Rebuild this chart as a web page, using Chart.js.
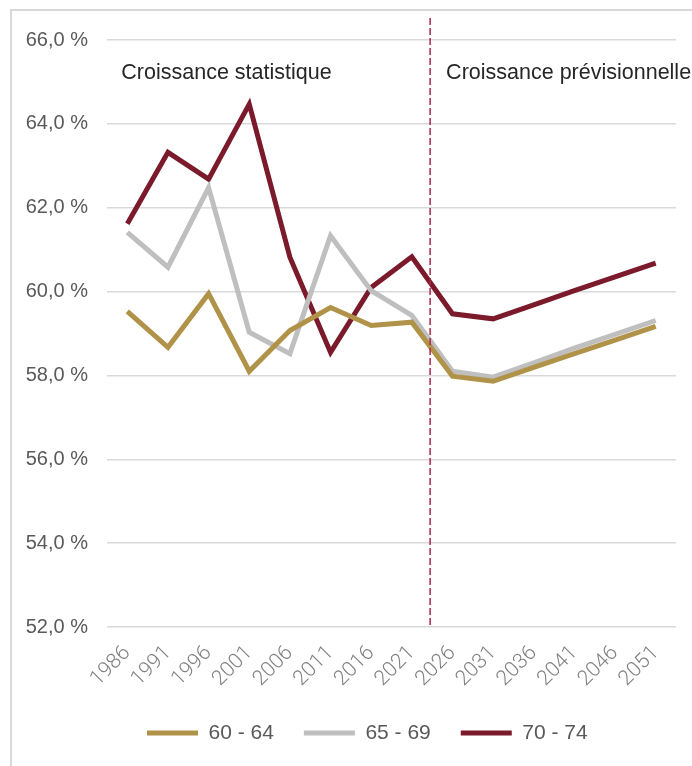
<!DOCTYPE html>
<html>
<head>
<meta charset="utf-8">
<script src="https://cdn.jsdelivr.net/npm/chart.js@4.4.0/dist/chart.umd.min.js"></script>
<style>
    html, body { margin: 0; padding: 0; background: #fff; }
    #wrap { position: relative; width: 692px; height: 766px; overflow: hidden; }
    #frame { position: absolute; left: 10px; top: 9px; width: 760px; height: 820px; border: 2px solid #d9d9d9; box-sizing: border-box; }
    #chart { position: absolute; left: 0; top: 0; }
</style>
</head>
<body>
<div id="wrap">
    <div id="frame"></div>
    <canvas id="chart" width="692" height="766"></canvas>
</div>
<script>
    'use strict';

    var years = ['1986', '1991', '1996', '2001', '2006', '2011', '2016', '2021',
                 '2026', '2031', '2036', '2041', '2046', '2051'];

    var age6064 = [59.53, 58.67, 59.95, 58.10, 59.07, 59.62, 59.19, 59.27,
                   57.98, 57.86, 58.19, 58.52, 58.84, 59.17];
    var age6569 = [61.41, 60.58, 62.48, 59.03, 58.52, 61.33, 60.02, 59.43,
                   58.10, 57.96, 58.30, 58.65, 58.98, 59.31];
    var age7074 = [61.62, 63.32, 62.68, 64.47, 60.82, 58.55, 60.10, 60.83,
                   59.47, 59.35, 59.68, 60.02, 60.35, 60.68];

    var seriesNames = ['60 - 64', '65 - 69', '70 - 74'];
    var yMin = 52, yMax = 66, yStep = 2;

    // between 2021 and 2026: statistics on the left, forecast on the right
    var splitAt = 7.45;
    var leftTitle = 'Croissance statistique';
    var rightTitle = 'Croissance prévisionnelle';

    var colors = {
        gold: '#b09248',
        grey: '#bfbfbf',
        wine: '#7b1a2b',
        split: '#a82848',
        grid: '#d9d9d9',
        tick: '#595959',
        year: '#808080',
        text: '#262626'
    };

    var fontFamily = '"Liberation Sans", Arial, sans-serif';

    function line(label, data, color) {
        return {
            label: label,
            data: data,
            borderColor: color,
            backgroundColor: color,
            borderWidth: 5,
            pointRadius: 0,
            tension: 0,
            borderJoinStyle: 'miter',
            borderCapStyle: 'butt'
        };
    }

    var sectionPlugin = {
        id: 'sections',
        afterLayout: function (chart) {
            // nudge the legend a bit to the right of the plot's left edge
            chart.legend.left += 10;
            chart.legend.right += 10;
        },
        afterDatasetsDraw: function (chart) {
            var ctx = chart.ctx;
            var x = chart.scales.x;
            var y = chart.scales.y;
            var area = chart.chartArea;
            var sx = x.getPixelForValue(splitAt);

            ctx.save();
            ctx.strokeStyle = colors.split;
            ctx.lineWidth = 1.5;
            ctx.setLineDash([7, 3]);
            ctx.beginPath();
            ctx.moveTo(sx, area.top - 22);
            ctx.lineTo(sx, area.bottom);
            ctx.stroke();
            ctx.setLineDash([]);

            ctx.fillStyle = colors.text;
            ctx.font = '21.5px ' + fontFamily;
            ctx.textBaseline = 'middle';
            ctx.textAlign = 'left';
            var ty = y.getPixelForValue(65.22);
            ctx.fillText(leftTitle, x.getPixelForValue(0) - 6, ty);
            ctx.fillText(rightTitle, sx + 16, ty);
            ctx.restore();
        }
    };

    var ctx = document.getElementById('chart').getContext('2d');

    var myChart = new Chart(ctx, {
        type: 'line',
        data: {
            labels: years,
            datasets: [
                line(seriesNames[0], age6064, colors.gold),
                line(seriesNames[1], age6569, colors.grey),
                line(seriesNames[2], age7074, colors.wine)
            ]
        },
        options: {
            responsive: false,
            animation: false,
            layout: {
                padding: { top: 40, right: 16, bottom: 12.5, left: 0 }
            },
            plugins: {
                tooltip: { enabled: false },
                legend: {
                    position: 'bottom',
                    align: 'start',
                    fullSize: false,
                    labels: {
                        boxWidth: 51,
                        boxHeight: 5,
                        padding: 30,
                        color: colors.tick,
                        font: { family: fontFamily, size: 21 },
                        generateLabels: function (chart) {
                            return chart.data.datasets.map(function (ds, i) {
                                return {
                                    text: ds.label,
                                    fillStyle: ds.borderColor,
                                    strokeStyle: ds.borderColor,
                                    lineWidth: 0,
                                    fontColor: colors.tick,
                                    datasetIndex: i
                                };
                            });
                        }
                    }
                }
            },
            scales: {
                x: {
                    offset: true,
                    grid: { display: false },
                    border: { display: false },
                    ticks: {
                        color: colors.year,
                        font: { family: 'Roboto, "Liberation Sans", sans-serif', size: 21, weight: 300 },
                        minRotation: 45,
                        maxRotation: 45,
                        padding: 6,
                        autoSkip: false
                    },
                    afterFit: function (scale) { scale.height = 65.5; }
                },
                y: {
                    min: yMin,
                    max: yMax,
                    grid: { color: colors.grid, lineWidth: 1.5, drawTicks: false },
                    border: { display: false },
                    ticks: {
                        stepSize: yStep,
                        padding: 19,
                        color: colors.tick,
                        font: { family: fontFamily, size: 20 },
                        callback: function (v) {
                            return v.toFixed(1).replace('.', ',') + ' %';
                        }
                    },
                    afterFit: function (scale) { scale.width = 107; }
                }
            }
        },
        plugins: [sectionPlugin]
    });
</script>
</body>
</html>
